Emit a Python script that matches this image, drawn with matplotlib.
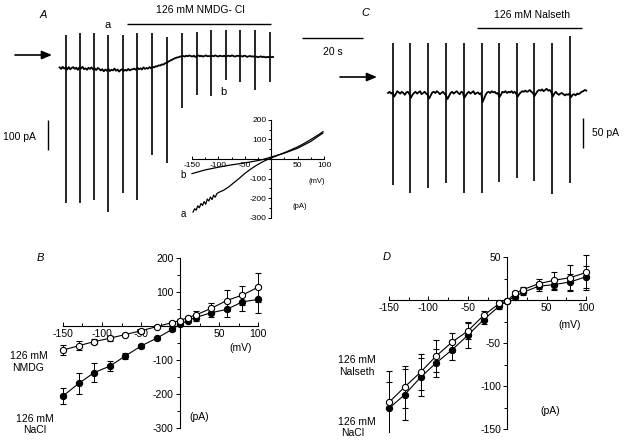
import numpy as np
import matplotlib.pyplot as plt
from matplotlib.ticker import MultipleLocator, FixedLocator

plt.rcParams["font.family"] = ["Liberation Sans", "DejaVu Sans"]
plt.rcParams["axes.unicode_minus"] = False
plt.rcParams["axes.linewidth"] = 0.8

W, H = 624, 444

# --------------------------------------------------------------
# Data
# --------------------------------------------------------------
# Panel A: current trace (pA) with voltage ramps, NMDG-Cl substitution
a_t0, a_dt = 1.5, 0.5
a_base = [2, -3, 4, -2, 1, -5, 3, -4, 0, 3, -3, 1, -6, 2, -2, 4, -4, -1, -6, 1,
          -3, 2, -5, -1, -7, 0, -3,
          -8, -4, -11, -5, -9, -3, -10, -6, -8, -2, -9, -5, -12, -7, -4, -10,
          -6, -9, -3, -8, -5, -4,
          -2, -6, 1, -4, -1, -5, 2, -3, 0, -2, 3, -1,
          4, 2, 6, 5, 9, 8, 12, 11, 15, 17,
          20, 23, 26, 28, 31, 33, 35, 36, 38, 39,
          40, 38, 41, 39, 42, 40, 38, 41, 37, 40, 42, 39, 41, 38, 40, 42, 39,
          40, 38, 41, 39, 42, 40, 38, 41, 40, 39, 41, 37, 40, 41, 39, 42, 40,
          38, 40, 41, 39, 40, 38, 41, 40, 37, 39, 40, 38, 39, 37, 38, 36, 37,
          39, 36, 38, 35, 37, 36, 38, 36, 37]
a_spike_t = [3.6, 8.2, 12.8, 17.4, 22.3, 26.9, 31.8, 36.7, 41.6, 46.6,
             51.1, 56.1, 60.7, 65.6, 70.5]
a_spike_top = [110, 117, 117, 110, 110, 117, 117, 103, 117, 120,
               127, 127, 127, 127, 120]
a_spike_bot = [-450, -450, -440, -480, -417, -440, -290, -317, -133, -90,
               -93, -40, -47, -73, -47]

# Panel A inset: I-V ramps, a (control) and b (NMDG)
ia_mv = [-148, -145, -142, -139, -136, -133, -130, -127, -124, -121, -118,
         -115, -112, -109, -106, -103, -100, -95, -90, -80, -70, -60, -50,
         -40, -30, -20, -10, 0, 10, 20, 30, 40, 50, 60, 70, 80, 90, 98]
ia_pa = [-272, -255, -262, -240, -250, -228, -238, -218, -232, -205, -215,
         -195, -208, -185, -196, -178, -172, -166, -160, -142, -120, -98, -74,
         -54, -36, -20, -6, 5, 16, 27, 38, 50, 62, 76, 92, 108, 125, 140]
ib_mv = [-150, -125, -100, -75, -50, -25, -15, 0, 25, 50, 75, 98]
ib_pa = [-75, -56, -42, -30, -20, -8, -2, 10, 30, 55, 90, 133]

# Panel C: current trace (pA), Naisethionate substitution
c_t0, c_dt = 1.0, 0.5
c_base = [0, 2, -1, 1, -6, -2, 3, 1, -1, 2,
          0, -3, 1, 2, -2, -8, -3, 0, 2, -1,
          1, 3, -2, 0, 2, -1, -3, -9, -4, 1,
          2, 0, 3, 1, -2, 0, 2, -1, -4, -10,
          -5, 0, 2, -1, 1, 3, 0, -2, 2, 1,
          -8, -4, 0, 2, -1, 1, 3, -2, 0, 1,
          -2, 0, -15, -9, -3, 1, 2, 0, 3, 1,
          2, -1, 0, -7, -3, 2, 1, 3, 0, 2,
          1, 3, 0, 2, -1, -6, -2, 1, 3, 2,
          4, 2, 3, 5, 2, 0, -5, -1, 3, 5,
          4, 6, 3, 5, 7, 4, 5, 2, -6, -1,
          2, -1, -3, -1, 0, -2, -4, -2, -3, -1,
          -7, -3, -2, -4, -1, -2, 0, 2, 3, 5, 4]
c_spike_t = [2.6, 8.2, 14.1, 20.0, 25.9, 31.8, 37.4, 43.3, 48.9, 54.8, 60.7]
c_spike_top = [83, 83, 83, 83, 83, 83, 83, 83, 83, 83, 95]
c_spike_bot = [-153, -167, -158, -150, -167, -167, -148, -142, -147, -168, -150]

# Panels B and D: mean I-V relations
mv = [-150, -130, -110, -90, -70, -50, -30, -10, 0, 10, 20, 40, 60, 80, 100]

b_nacl = [-206, -169, -137, -118, -88, -59, -36, -10, 5, 16, 25, 39, 49, 71, 78]
b_nacl_err = [23, 32, 28, 15, 10, 5, 4, 4, 4, 5, 10, 12, 22, 26, 40]
b_nmdg = [-71, -58, -46, -36, -25, -14, -2, 10, 16, 25, 32, 52, 75, 91, 114]
b_nmdg_err = [15, 13, 8, 8, 5, 6, 5, 4, 5, 5, 12, 15, 30, 28, 42]

d_nacl = [-126, -110, -90, -73, -58, -41, -23, -7, -1, 4, 9, 16, 18, 21, 27]
d_nacl_err = [31, 30, 22, 16, 12, 15, 5, 3, 2, 2, 3, 5, 6, 9, 13]
d_iseth = [-119, -101, -84, -65, -49, -36, -18, -4, -1, 8, 12, 19, 23, 26, 32]
d_iseth_err = [37, 24, 21, 19, 11, 9, 5, 3, 2, 2, 3, 6, 10, 15, 20]


def box(l, t, r, b):
    return [l / W, 1 - b / H, (r - l) / W, (b - t) / H]


fig = plt.figure(figsize=(W / 100, H / 100), dpi=100)

# overlay in pixel coords for labels, scale bars, arrows
ov = fig.add_axes([0, 0, 1, 1])
ov.set_xlim(0, W)
ov.set_ylim(H, 0)
ov.axis("off")

fs = 7.5


def txt(x, y, s, **kw):
    kw.setdefault("fontsize", fs)
    kw.setdefault("ha", "center")
    kw.setdefault("va", "center")
    ov.text(x, y, s, **kw)


def bar(x0, y0, x1, y1, lw=1.0):
    ov.plot([x0, x1], [y0, y1], color="black", lw=lw, solid_capstyle="butt")


def arrow(x0, x1, y):
    ov.annotate("", xy=(x1, y), xytext=(x0, y),
                arrowprops=dict(arrowstyle="-|>,head_length=0.6,head_width=0.25",
                                color="black", lw=1.2, shrinkA=0, shrinkB=0))


# --------------------------------------------------------------
# Panel A trace
# --------------------------------------------------------------
axA = fig.add_axes(box(55, 20, 280, 220))
axA.set_xlim(0, 225 / 3.05)
axA.set_ylim((68 - 220) / 0.3, (68 - 20) / 0.3)
axA.axis("off")
ta = a_t0 + np.arange(len(a_base)) * a_dt
axA.plot(ta, a_base, color="black", lw=1.3)
axA.vlines(a_spike_t, a_spike_bot, a_spike_top, color="black", lw=1.2)

# Panel A inset
axI = fig.add_axes(box(186.7, 118, 329.3, 219.5))
axI.set_facecolor("none")
axI.set_xlim(-160, 110)
axI.set_ylim(-310, 210)
axI.plot(ia_mv, ia_pa, color="black", lw=0.9)
axI.plot(ib_mv, ib_pa, color="black", lw=0.9)

# --------------------------------------------------------------
# Panel C trace
# --------------------------------------------------------------
axC = fig.add_axes(box(385, 20, 595, 220))
axC.set_xlim(0, 210 / 3.05)
axC.set_ylim((93 - 220) / 0.6, (93 - 20) / 0.6)
axC.axis("off")
tc = c_t0 + np.arange(len(c_base)) * c_dt
axC.plot(tc, c_base, color="black", lw=1.3)
axC.vlines(c_spike_t, c_spike_bot, c_spike_top, color="black", lw=1.2)

# --------------------------------------------------------------
# Panels B and D
# --------------------------------------------------------------
axB = fig.add_axes(box(55.2, 254.6, 265.8, 431.4))
axB.set_xlim(-160, 110)
axB.set_ylim(-310, 210)

axD = fig.add_axes(box(381.1, 252.7, 593.9, 433.3))
axD.set_xlim(-160, 110)
axD.set_ylim(-155, 55)


def iv_axes(ax, yb, ymaj, ymin, size):
    ax.set_facecolor("none")
    for s in ["top", "right"]:
        ax.spines[s].set_visible(False)
    ax.spines["left"].set_position(("data", 0))
    ax.spines["bottom"].set_position(("data", 0))
    ax.spines["left"].set_bounds(*yb)
    ax.spines["bottom"].set_bounds(-150, 100)
    ax.xaxis.set_major_locator(FixedLocator([-150, -100, -50, 50, 100]))
    ax.xaxis.set_minor_locator(FixedLocator([-125, -75, -25, 25, 75]))
    yt = [v for v in np.arange(yb[0], yb[1] + 1, ymaj) if v != 0]
    ax.yaxis.set_major_locator(FixedLocator(yt))
    ax.yaxis.set_minor_locator(MultipleLocator(ymin))
    ax.tick_params(axis="x", which="both", direction="in", labelsize=size,
                   pad=2, width=0.7)
    ax.tick_params(axis="y", which="both", direction="out", labelsize=size,
                   pad=1.5, width=0.7)
    ax.tick_params(which="major", length=3)
    ax.tick_params(which="minor", length=2)


iv_axes(axB, (-300, 200), 100, 50, fs)
iv_axes(axD, (-150, 50), 50, 25, fs)
iv_axes(axI, (-300, 200), 100, 50, 6)
axI.tick_params(which="major", length=2)
axI.tick_params(which="minor", length=1.2)


def series(ax, y, err, filled):
    ax.errorbar(mv, y, yerr=err, color="black", lw=0.8, elinewidth=0.7,
                capsize=2.5, capthick=0.7, marker="o", ms=4.5, mew=0.8,
                mfc="black" if filled else "white", mec="black", zorder=3)


series(axB, b_nacl, b_nacl_err, True)
series(axB, b_nmdg, b_nmdg_err, False)
series(axD, d_nacl, d_nacl_err, True)
series(axD, d_iseth, d_iseth_err, False)

# --------------------------------------------------------------
# Labels, scale bars, arrows
# --------------------------------------------------------------
txt(43, 15, "A", style="italic", fontsize=8)
txt(108, 25, "a", fontsize=8)
txt(223, 92, "b", fontsize=8)
txt(200, 10, "126 mM NMDG- Cl")
bar(127, 24, 271, 24)
bar(302, 38, 363, 38)
txt(333, 52, "20 s")
txt(365, 13, "C", style="italic", fontsize=8)
txt(532, 15, "126 mM Nalseth")
bar(477, 28, 582, 28)
bar(48, 120, 48, 150)
txt(3, 137, "100 pA", ha="left")
bar(583, 118, 583, 148)
txt(592, 133, "50 pA", ha="left")
arrow(15, 52, 55)
arrow(340, 377, 77)

txt(317, 181, "(mV)", fontsize=5.5)
txt(300, 206, "(pA)", fontsize=5.5)
txt(183, 214, "a", fontsize=7)
txt(183, 175, "b", fontsize=7)

txt(40, 258, "B", style="italic", fontsize=8)
txt(29, 356, "126 mM")
txt(28, 368, "NMDG")
txt(35, 419, "126 mM")
txt(35, 430, "NaCl")
txt(241, 348, "(mV)")
txt(199, 417, "(pA)")

txt(387, 257, "D", style="italic", fontsize=8)
txt(357, 360, "126 mM")
txt(357, 372, "Nalseth")
txt(357, 422, "126 mM")
txt(353, 433, "NaCl")
txt(570, 325, "(mV)")
txt(550, 411, "(pA)")

fig.savefig("out.png", dpi=100)
